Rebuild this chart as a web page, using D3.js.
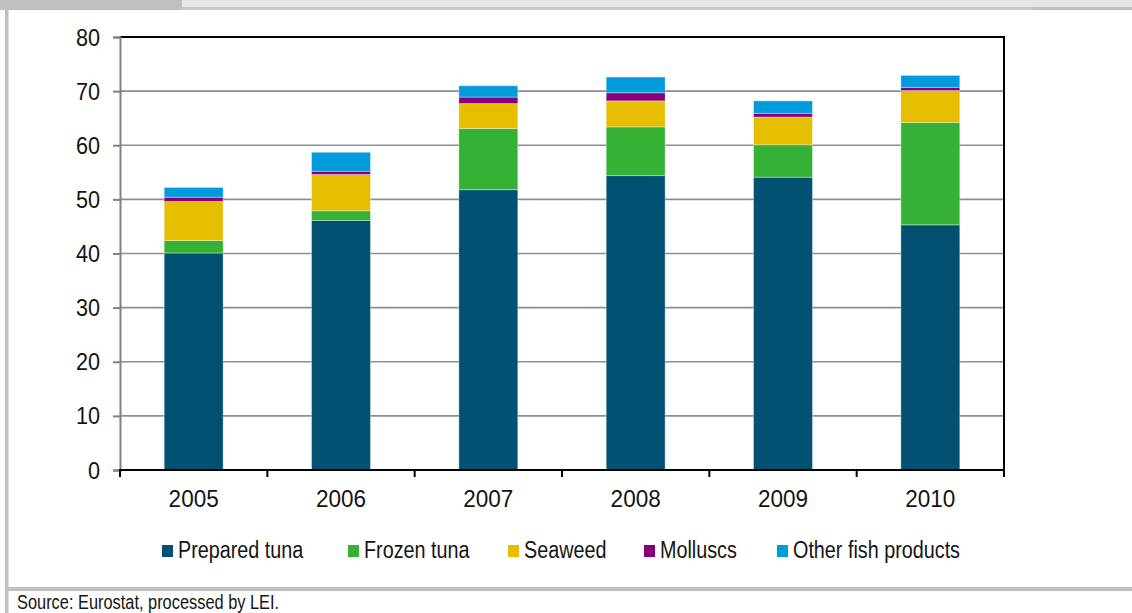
<!DOCTYPE html>
<html>
<head>
<meta charset="utf-8">
<script src="https://cdn.jsdelivr.net/npm/d3@7"></script>
<style>
  html, body { margin: 0; padding: 0; background: #fff; }
  svg { display: block; }
</style>
</head>
<body>
<svg id="chart" width="1132" height="613"></svg>
<script>
// EU imports from the Philippines by product group, 1,000 tonnes
const years = ["2005", "2006", "2007", "2008", "2009", "2010"];
const seriesNames = ["Prepared tuna", "Frozen tuna", "Seaweed", "Molluscs", "Other fish products"];
const preparedTuna = [40.1, 46.1, 51.8, 54.4, 54.1, 45.3];
const frozenTuna   = [2.3, 1.8, 11.3, 9.0, 6.0, 18.9];
const seaweed      = [7.2, 6.7, 4.6, 4.8, 5.1, 5.9];
const molluscs     = [0.8, 0.6, 1.2, 1.5, 0.7, 0.6];
const otherFish    = [1.8, 3.5, 2.1, 2.9, 2.3, 2.2];
const yTicks = [0, 10, 20, 30, 40, 50, 60, 70, 80];
const sourceNote = "Source: Eurostat, processed by LEI.";

const seriesColors = ["#025172", "#35b235", "#e6be00", "#880077", "#009bdc"];
const seriesValues = [preparedTuna, frozenTuna, seaweed, molluscs, otherFish];

const rows = years.map((y, i) => {
  const r = { year: y };
  seriesNames.forEach((s, k) => { r[s] = seriesValues[k][i]; });
  return r;
});

const svg = d3.select("#chart");
const W = 1132, H = 613;
const plot = { left: 120, right: 1004, top: 37, bottom: 470 };

const sans = "'Liberation Sans', Arial, Helvetica, sans-serif";
const textColor = "#141414";

// page frame: header strip, left rule, footer rule
svg.append("rect").attr("x", 0).attr("y", 0).attr("width", W).attr("height", 10).attr("fill", "#c0c0c0");
svg.append("rect").attr("x", 182).attr("y", 0).attr("width", W - 182).attr("height", 7).attr("fill", "#e6e6e6");
svg.append("rect").attr("x", 182).attr("y", 7).attr("width", 1033 - 182).attr("height", 3).attr("fill", "#cacaca");
svg.append("rect").attr("x", 5).attr("y", 10).attr("width", 3.5).attr("height", H - 10).attr("fill", "#c0c0c0");
svg.append("rect").attr("x", 5).attr("y", 587).attr("width", W - 5).attr("height", 4).attr("fill", "#c0c0c0");

const x = d3.scaleBand()
  .domain(years)
  .range([plot.left, plot.right])
  .paddingInner(0.6)
  .paddingOuter(0.3);

const y = d3.scaleLinear()
  .domain([0, 80])
  .range([plot.bottom, plot.top]);

// horizontal gridlines
svg.append("g")
  .selectAll("line")
  .data(yTicks.filter(t => t > 0 && t < 80))
  .join("line")
  .attr("x1", plot.left).attr("x2", plot.right)
  .attr("y1", d => y(d)).attr("y2", d => y(d))
  .attr("stroke", "#8e8e8e")
  .attr("stroke-width", 1.6);

// stacked bars
const stack = d3.stack().keys(seriesNames);
const layers = stack(rows);

svg.append("g")
  .selectAll("g")
  .data(layers)
  .join("g")
  .attr("fill", (d, i) => seriesColors[i])
  .selectAll("rect")
  .data(d => d)
  .join("rect")
  .attr("x", d => x(d.data.year))
  .attr("width", x.bandwidth())
  .attr("y", d => y(d[1]))
  .attr("height", d => y(d[0]) - y(d[1]))
  .attr("stroke", "rgba(255,255,255,0.35)")
  .attr("stroke-width", 1);

// plot frame: top and right edges
svg.append("line")
  .attr("x1", plot.left).attr("x2", plot.right + 1)
  .attr("y1", plot.top).attr("y2", plot.top)
  .attr("stroke", "#000").attr("stroke-width", 2);
svg.append("line")
  .attr("x1", plot.right).attr("x2", plot.right)
  .attr("y1", plot.top).attr("y2", plot.bottom)
  .attr("stroke", "#000").attr("stroke-width", 2);

// y axis (labels slightly condensed)
const yAxis = svg.append("g")
  .attr("transform", `translate(${plot.left},0)`)
  .call(d3.axisLeft(y).tickValues(yTicks).tickSize(7).tickPadding(13).tickFormat(d3.format("d")));
yAxis.select(".domain").attr("stroke", "#808080").attr("stroke-width", 2);
yAxis.selectAll(".tick line").attr("stroke", "#808080").attr("stroke-width", 2);
yAxis.selectAll(".tick text")
  .attr("x", 0)
  .attr("dy", "0.35em")
  .attr("transform", "translate(-20,0) scale(0.94,1)")
  .attr("font-family", sans)
  .attr("font-size", 23)
  .attr("fill", textColor);

// x axis with ticks at category boundaries
const xAxis = svg.append("g")
  .attr("transform", `translate(0,${plot.bottom})`);
xAxis.append("line")
  .attr("x1", plot.left - 1).attr("x2", plot.right + 1)
  .attr("y1", 0).attr("y2", 0)
  .attr("stroke", "#000").attr("stroke-width", 2);
const step = x.step();
const boundaries = years.map((yr, i) => plot.left + i * step).concat([plot.right]);
xAxis.selectAll("line.tick")
  .data(boundaries)
  .join("line")
  .attr("class", "tick")
  .attr("x1", d => d).attr("x2", d => d)
  .attr("y1", 0).attr("y2", 7)
  .attr("stroke", "#000").attr("stroke-width", 2);
xAxis.selectAll("text")
  .data(years)
  .join("text")
  .attr("transform", d => `translate(${x(d) + x.bandwidth() / 2},37) scale(0.98,1)`)
  .attr("text-anchor", "middle")
  .attr("font-family", sans)
  .attr("font-size", 23)
  .attr("fill", textColor)
  .text(d => d);

// legend
const legendX = [162, 348, 508, 644, 777];
const legend = svg.append("g");
const items = legend.selectAll("g")
  .data(seriesNames)
  .join("g")
  .attr("transform", (d, i) => `translate(${legendX[i]},0)`);
items.append("rect")
  .attr("x", 0).attr("y", 545)
  .attr("width", 11).attr("height", 12)
  .attr("fill", (d, i) => seriesColors[i]);
items.append("text")
  .attr("transform", "translate(16,558) scale(0.86,1)")
  .attr("font-family", sans)
  .attr("font-size", 23)
  .attr("fill", textColor)
  .text(d => d);

// source note
svg.append("text")
  .attr("transform", "translate(17,608.5) scale(0.84,1)")
  .attr("font-family", sans)
  .attr("font-size", 19.5)
  .attr("fill", textColor)
  .text(sourceNote);
</script>
</body>
</html>
